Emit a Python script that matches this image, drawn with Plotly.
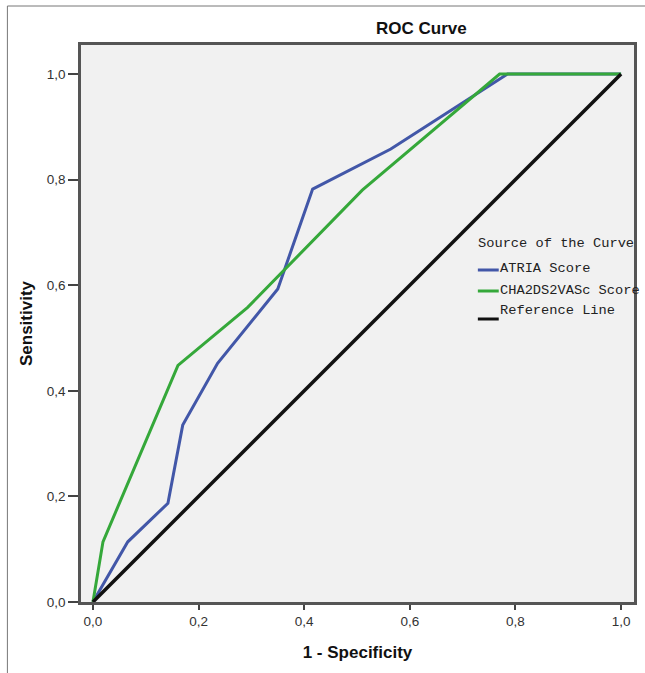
import plotly.graph_objects as go

# Data
atria_fpr = [0.0, 0.066, 0.142, 0.170, 0.236, 0.350, 0.416, 0.564, 0.785, 1.0]
atria_tpr = [0.0, 0.114, 0.187, 0.335, 0.452, 0.593, 0.782, 0.858, 1.0, 1.0]

cha_fpr = [0.0, 0.019, 0.161, 0.293, 0.510, 0.770, 1.0]
cha_tpr = [0.0, 0.114, 0.448, 0.558, 0.780, 1.0, 1.0]

ref_fpr = [0.0, 1.0]
ref_tpr = [0.0, 1.0]

tick_vals = [0.0, 0.2, 0.4, 0.6, 0.8, 1.0]

legend_title = "Source of the Curve"
series_names = ["ATRIA Score", "CHA2DS2VASc Score", "Reference Line"]
series_colors = ["#4257a8", "#35a83a", "#111111"]

fig = go.Figure()
fig.add_trace(go.Scatter(x=atria_fpr, y=atria_tpr, mode="lines", name=series_names[0],
                         line=dict(color=series_colors[0], width=3), showlegend=False))
fig.add_trace(go.Scatter(x=cha_fpr, y=cha_tpr, mode="lines", name=series_names[1],
                         line=dict(color=series_colors[1], width=3), showlegend=False))
fig.add_trace(go.Scatter(x=ref_fpr, y=ref_tpr, mode="lines", name=series_names[2],
                         line=dict(color=series_colors[2], width=3.5), showlegend=False))

# plot area geometry in pixels (for the manual legend placement)
L, R, T, B = 81, 637, 45, 602
W, H = R - L, B - T
def px(xp):
    return (xp - L) / W
def py(yp):
    return (B - yp) / H

legend_font = dict(family="Liberation Mono", size=13.7, color="#222222")
annotations = [
    dict(text="<b>ROC Curve</b>", x=px(423), y=py(28), xref="paper", yref="paper",
         showarrow=False, font=dict(family="Liberation Sans", size=17, color="#111111"),
         xanchor="center", yanchor="middle"),
    dict(text=legend_title, x=px(478), y=py(243), xref="paper", yref="paper",
         showarrow=False, font=legend_font, xanchor="left", yanchor="middle"),
]
text_y = [268, 290, 310]
line_y = [270, 291, 319]
shapes = []
for name, col, ty, ly in zip(series_names, series_colors, text_y, line_y):
    annotations.append(dict(text=name, x=px(500), y=py(ty), xref="paper", yref="paper",
                            showarrow=False, font=legend_font, xanchor="left", yanchor="middle"))
    shapes.append(dict(type="line", xref="paper", yref="paper", x0=px(480), x1=px(501),
                       y0=py(ly), y1=py(ly), line=dict(color=col, width=3)))

# outer image border (only left and top edges fall inside the picture)
shapes.append(dict(type="rect", xref="paper", yref="paper", x0=px(7), x1=px(660),
                   y0=py(690), y1=py(6), line=dict(color="#777777", width=1), layer="below"))

fig.update_layout(
    width=645, height=673, autosize=False,
    margin=dict(l=L, r=645 - R, t=T, b=673 - B, pad=0),
    paper_bgcolor="white", plot_bgcolor="#f1f1f1",
    separators=",.",
    annotations=annotations, shapes=shapes,
    font=dict(family="Liberation Sans", color="#333333"),
)
fig.update_xaxes(
    range=[(L - 93) / 531, (R - 93) / 531], tickvals=tick_vals, tickformat=".1f",
    ticks="outside", ticklen=5, tickcolor="#444", tickwidth=1.5,
    tickfont=dict(size=13.5, color="#333333"),
    showgrid=False, zeroline=False, showline=True, mirror=True,
    linecolor="#555555", linewidth=2.5,
    title=dict(text="<b>1 - Specificity</b>", font=dict(size=17, color="#111111"), standoff=19),
)
fig.update_yaxes(
    range=[0, (B - 45) / 528], tickvals=tick_vals, tickformat=".1f",
    ticks="outside", ticklen=10, tickcolor="#444", tickwidth=1.5,
    tickfont=dict(size=13.5, color="#333333"),
    showgrid=False, zeroline=False, showline=True, mirror=True,
    linecolor="#555555", linewidth=2.5,
    title=dict(text="<b>Sensitivity</b>", font=dict(size=17, color="#111111"), standoff=10),
)

fig.write_html("out.html", config={"displayModeBar": False},
               post_script="document.body.style.margin='0px';document.body.style.overflow='hidden';")
